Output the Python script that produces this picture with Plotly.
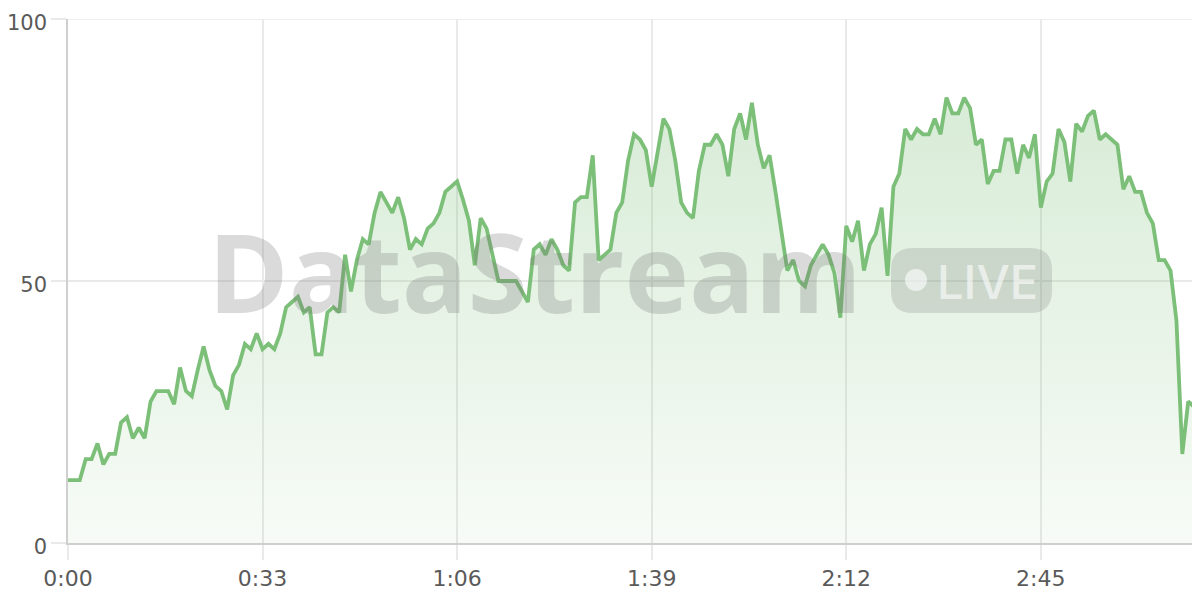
import plotly.graph_objects as go

# ---- data ----
seconds = list(range(192))
values = [
    12, 12, 12, 16, 16, 19, 15, 17, 17, 23,
    24, 20, 22, 20, 27, 29, 29, 29, 26.5, 33.5,
    29, 28, 33, 37.5, 33, 30, 29, 25.5, 32, 34,
    38, 37, 40, 37, 38, 37, 40, 45, 46, 47,
    44, 45, 36, 36, 44, 45, 44, 55, 48, 54,
    58, 57, 63, 67, 65, 63, 66, 62, 56, 58,
    57, 60, 61, 63, 67, 68, 69, 65.5, 61.5, 53,
    62, 60, 55, 50, 50, 50, 50, 48, 46, 56,
    57, 55, 58, 56, 53, 52, 65, 66, 66, 74,
    54, 55, 56, 63, 65, 73, 78, 77, 75, 68,
    75, 81, 79, 73, 65, 63, 62, 71, 76, 76,
    78, 76, 70, 79, 82, 77, 84, 76, 71.5, 74,
    67, 60, 52, 54, 50, 49, 53, 55, 57, 55,
    51.5, 43, 60.5, 57.5, 61.5, 52, 57, 59, 64, 51,
    68, 70.5, 79, 77, 79, 78, 78, 81, 78, 85,
    82, 82, 85, 83, 76, 77, 68.5, 71, 71, 77,
    77, 70.5, 76, 73.5, 78, 64, 69, 70.5, 79, 76.5,
    69, 80, 78.5, 81.5, 82.5, 77, 78, 77, 76, 67.5,
    70, 67, 67, 63, 61, 54, 54, 52, 42.5, 17,
    27, 26,
]
x_tick_vals = [0, 33, 66, 99, 132, 165]
x_tick_text = ["0:00", "0:33", "1:06", "1:39", "2:12", "2:45"]
y_tick_vals = [0, 50, 100]
y_tick_text = ["0", "50", "100"]

# ---- layout geometry (page offset of 8px from body margin compensated) ----
OFF = 8
W, H = 1200, 600
ML, MR, MT, MB = 68 - OFF, OFF, 19 - OFF, 57 + OFF
PW, PH = W - ML - MR, H - MT - MB


def px(xp):
    return (xp - OFF - ML) / PW


def py(yp):
    return (H - MB - (yp - OFF)) / PH


LINE = "#7cbf78"
GRID = "#e9e9e9"

fig = go.Figure()
fig.add_trace(go.Scatter(
    x=seconds, y=values, mode="lines",
    line=dict(color=LINE, width=3.8),
    fill="tozeroy",
    fillgradient=dict(
        type="vertical",
        colorscale=[[0, "rgba(124,191,120,0.06)"], [1, "rgba(124,191,120,0.30)"]],
    ),
    hoverinfo="skip",
))

# top gridline (edge of plot area)
fig.add_shape(type="line", xref="paper", yref="y", x0=0, x1=1, y0=100, y1=100,
              line=dict(color=GRID, width=1.5), layer="below")

# watermark
fig.add_annotation(
    text="<b>DataStream</b>", xref="paper", yref="paper",
    x=px(206), y=py(270), xanchor="left", yanchor="middle",
    showarrow=False,
    font=dict(family="Open Sans", size=109, color="rgba(120,120,120,0.27)"),
)

# badge (rounded rect)
bx0, bx1, by0, by1, r = 891, 1052, 248, 313, 22
rx, ry = r / PW, r / PH
X0, X1, Y0, Y1 = px(bx0), px(bx1), py(by1), py(by0)
path = (
    f"M {X0+rx},{Y0} L {X1-rx},{Y0} Q {X1},{Y0} {X1},{Y0+ry} "
    f"L {X1},{Y1-ry} Q {X1},{Y1} {X1-rx},{Y1} "
    f"L {X0+rx},{Y1} Q {X0},{Y1} {X0},{Y1-ry} "
    f"L {X0},{Y0+ry} Q {X0},{Y0} {X0+rx},{Y0} Z"
)
fig.add_shape(type="path", path=path, xref="paper", yref="paper",
              fillcolor="rgba(120,120,120,0.22)", line=dict(width=0), layer="above")
cr = 11
fig.add_shape(type="circle", xref="paper", yref="paper",
              x0=px(916 - cr), x1=px(916 + cr), y0=py(280 + cr), y1=py(280 - cr),
              fillcolor="rgba(255,255,255,0.6)", line=dict(width=0), layer="above")
fig.add_annotation(
    text="LIVE", xref="paper", yref="paper",
    x=px(935), y=py(281), xanchor="left", yanchor="middle",
    showarrow=False,
    font=dict(family="Inter", size=47, color="rgba(255,255,255,0.6)", weight=500),
)

fig.update_layout(
    width=W, height=H,
    margin=dict(l=ML, r=MR, t=MT, b=MB, pad=0, autoexpand=False),
    paper_bgcolor="white", plot_bgcolor="white",
    showlegend=False,
    font=dict(family="DejaVu Sans", size=22, color="#5a5a5a"),
    xaxis=dict(
        range=[0, 192], tickvals=x_tick_vals, ticktext=x_tick_text,
        showgrid=True, gridcolor=GRID, gridwidth=1.5,
        ticks="outside", ticklen=15, tickcolor=GRID, tickwidth=1.5,
        showline=True, linecolor="#cfcfcf", linewidth=1.5,
        zeroline=False, fixedrange=True, automargin=False,
        ticklabeloverflow="allow",
    ),
    yaxis=dict(
        range=[0, 100], tickvals=y_tick_vals, ticktext=y_tick_text,
        tickfont=dict(size=21),
        showgrid=True, gridcolor=GRID, gridwidth=1.5,
        ticks="outside", ticklen=15, tickcolor=GRID, tickwidth=1.5,
        showline=True, linecolor="#cfcfcf", linewidth=1.5,
        zeroline=False, fixedrange=True, automargin=False,
        ticklabeloverflow="allow", ticklabelshift=4,
    ),
)

fig.write_html("out.html")
